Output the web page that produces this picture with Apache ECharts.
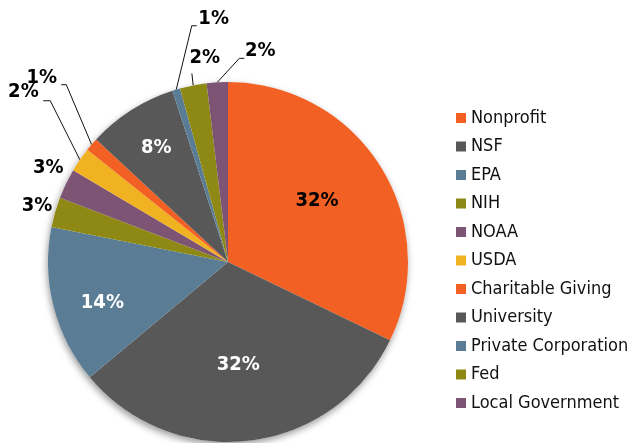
<!DOCTYPE html>
<html><head><meta charset="utf-8">
<script src="https://cdn.jsdelivr.net/npm/echarts@6/dist/echarts.min.js"></script>
<style>html,body{margin:0;padding:0;background:#fff}#c{width:629px;height:443px}</style>
</head><body><div id="c"></div>
<script>
// ---- data ----
const categories = ['Nonprofit','NSF','EPA','NIH','NOAA','USDA','Charitable Giving','University','Private Corporation','Fed','Local Government'];
const shares = [32.2, 31.8, 14.2, 2.7, 2.7, 2.2, 1.2, 8.1, 0.7, 2.4, 1.9];

// ---- styles ----
const colors = ['#F26023','#585858','#5A7D95','#8E8914','#7E5475','#F1B222','#F26023','#585858','#5A7D95','#8E8914','#7E5475'];
const F = "'Liberation Sans Narrow','DejaVu Sans Condensed','Arial Narrow',sans-serif";
const CX = 228, CY = 262, R = 180;
// label placement per slice: distance from centre, angle offset from slice middle (deg);
// elbow: [distance, angle offset, horizontal run] for leader lines
const labelSpots = [
  {d:108, a:-2.4, c:'#000'},
  {d:103.5, a:1.3, c:'#fff'},
  {d:132, a:-3.6, c:'#fff'},
  {d:199, a:0.2, c:'#000'},
  {d:203, a:1.9, c:'#000'},
  {d:266, a:5.1, c:'#000', elbow:[240, 7.6, -7]},
  {d:262, a:4, c:'#000', elbow:[240, 6.9, -5]},
  {d:135, a:0.5, c:'#fff'},
  {d:244, a:13.35, c:'#000', elbow:[239, 8, 5]},
  {d:206, a:4.7, c:'#000', elbow:[192, 0.3, 0]},
  {d:214, a:12.1, c:'#000', elbow:[204, 6.6, 5]}
];

const total = shares.reduce((a, b) => a + b, 0);
const mids = [];
let acc = 0;
shares.forEach(v => { mids.push((acc + v / 2) / total * 360); acc += v; });
function polar(d, deg) { const t = deg * Math.PI / 180; return [CX + d * Math.sin(t), CY - d * Math.cos(t)]; }

const data = categories.map((n, i) => ({
  name: n, value: shares[i],
  itemStyle: {color: colors[i]},
  label: {color: labelSpots[i].c},
  labelLine: {show: !!labelSpots[i].elbow}
}));

const chart = echarts.init(document.getElementById('c'), null, {renderer: 'canvas'});
chart.setOption({
  animation: false,
  legend: {
    orient: 'vertical', left: 456, top: 108, padding: 0,
    itemWidth: 10, itemHeight: 10, itemGap: 8.5, icon: 'rect',
    textStyle: {fontFamily: F, fontSize: 18, color: '#111', lineHeight: 20},
    data: categories
  },
  series: [
    {
      type: 'pie', center: [CX, CY], radius: R, silent: true, z: 1,
      label: {show: false}, labelLine: {show: false},
      data: [{value: 1, name: '_bg', itemStyle: {color: '#ffffff', shadowBlur: 7, shadowOffsetX: -1, shadowOffsetY: 3, shadowColor: 'rgba(0,0,0,0.4)'}}]
    },
    {
      type: 'pie', center: [CX, CY], radius: R, startAngle: 90, clockwise: true, z: 2,
      avoidLabelOverlap: false,
      itemStyle: {borderWidth: 0},
      label: {
        show: true, position: 'outside', fontFamily: F, fontSize: 20, fontWeight: 'bold',
        formatter: p => Math.round(p.percent) + '%'
      },
      labelLine: {lineStyle: {color: '#111', width: 1}},
      labelLayout: function (p) {
        const s = labelSpots[p.dataIndex];
        const m = mids[p.dataIndex];
        const pos = polar(s.d, m + s.a);
        const out = {x: pos[0], y: pos[1], align: 'center', verticalAlign: 'middle'};
        if (s.elbow) {
          const e = polar(s.elbow[0], m + s.elbow[1]);
          out.labelLinePoints = [polar(R, m), e, [e[0] + s.elbow[2], e[1]]];
        }
        return out;
      },
      data: data
    }
  ]
});
</script></body></html>
